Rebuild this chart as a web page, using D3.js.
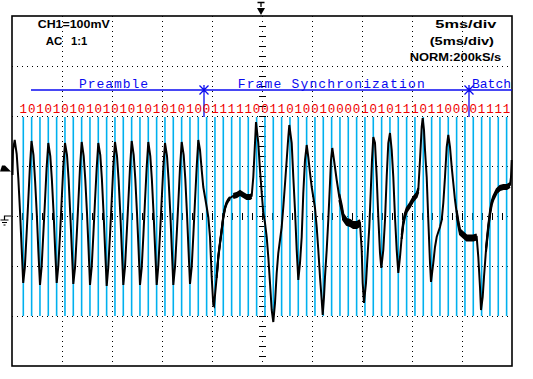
<!DOCTYPE html>
<html><head><meta charset="utf-8">
<script src="https://cdn.jsdelivr.net/npm/d3@7"></script>
<style>body{margin:0;background:#fff}svg{display:block}</style>
</head><body>
<svg id="c" width="533" height="379"></svg>
<script>
// ---- data ----
const bits = ["1","0","1","0","1","0","1","0","1","0","1","0","1","0","1","0","1","0","1","0","1","0",
  "0","1","1","1","1","1","0","0","1","1","0","1","0","0","1","0","0","0","0","1","0","1","0","1",
  "1","1","0","1","1","0","0","0","0","1","1","1","1"];
const firstBitTime = 1.13;      // ms
const bitPeriod = 0.8333;       // ms (1200 baud)
const sectionNames = ["Preamble", "Frame Synchronization", "Batch"];
const sectionLabelTimes = [6.7, 22.57, 46.0];
const sectionBoundaries = [19.2, 45.7];
const sectionLineStart = 1.9;
const headerLeft = ["CH1=100mV", "AC", "1:1"];
const headerRight = ["5ms/div", "(5ms/div)", "NORM:200kS/s"];
const timeGrid = [5,10,15,20,25,30,35,40,45];
const voltGrid = [-200,-100,0,100,200,300];
const triggerTime = 25, triggerLevel = 95;
const trace = [[0.05,82],[0.1,132],[0.27,152],[0.47,124],[0.63,76],[0.8,10],[0.97,-66],[1.12,-134],[1.28,-104],[1.45,-40],[1.62,28],[1.78,94],
[1.95,150],[2.15,122],[2.31,70],[2.48,4],[2.64,-72],[2.8,-138],[2.96,-102],[3.13,-36],[3.3,30],[3.46,96],
[3.63,146],[3.83,120],[3.99,72],[4.16,6],[4.32,-70],[4.47,-134],[4.63,-100],[4.8,-38],[4.97,32],[5.13,98],
[5.3,146],[5.5,122],[5.66,74],[5.83,2],[5.99,-70],[6.13,-136],[6.3,-104],[6.47,-40],[6.64,30],[6.8,96],
[6.97,148],[7.17,120],[7.33,72],[7.5,6],[7.66,-68],[7.8,-138],[7.97,-102],[8.14,-36],[8.3,30],[8.47,96],
[8.63,146],[8.83,122],[8.99,74],[9.16,4],[9.32,-72],[9.47,-140],[9.63,-102],[9.8,-38],[9.97,30],[10.13,98],
[10.3,148],[10.5,120],[10.66,72],[10.83,4],[10.99,-70],[11.13,-138],[11.3,-102],[11.47,-36],[11.64,32],[11.8,96],
[11.97,150],[12.17,122],[12.33,74],[12.5,6],[12.66,-68],[12.8,-138],[12.97,-104],[13.14,-38],[13.3,30],[13.47,98],
[13.63,148],[13.83,120],[13.99,72],[14.16,4],[14.32,-70],[14.47,-138],[14.63,-100],[14.8,-36],[14.97,32],[15.13,96],
[15.3,146],[15.5,120],[15.66,72],[15.83,6],[15.99,-70],[16.13,-138],[16.3,-102],[16.47,-38],[16.64,30],[16.8,96],
[16.97,148],[17.17,122],[17.33,74],[17.5,4],[17.66,-72],[17.8,-136],[17.97,-102],[18.14,-36],[18.3,30],[18.47,98],
[18.63,152],[18.8,132],[18.97,92],[19.13,58],[19.3,38],[19.47,18],[19.63,-2],[19.8,-42],[19.97,-122],[20.13,-178],[20.2,-180],
[20.47,-122],[20.63,-82],[20.8,-54],[20.97,-28],[21.13,-2],[21.3,16],[21.47,26],[21.63,32],[21.8,36],[22.13,40],[22.47,42],[22.8,46],[23.13,42],[23.47,38],[23.8,38],[23.97,40],
[24.13,78],[24.3,146],[24.4,188],[24.63,146],[24.8,92],[24.97,46],[25.13,6],[25.3,-14],[25.47,-42],[25.63,-82],[25.8,-134],[25.97,-188],[26.13,-212],
[26.3,-174],[26.47,-114],[26.63,-74],[26.8,-48],[26.97,-22],[27.13,18],[27.3,64],[27.47,112],[27.63,158],[27.73,182],
[27.97,146],[28.13,78],[28.3,12],[28.47,-68],[28.63,-128],[28.8,-94],[28.97,-42],[29.13,46],[29.3,112],[29.47,142],
[29.63,118],[29.8,86],[29.97,58],[30.13,38],[30.3,16],[30.47,-22],[30.63,-68],[30.8,-122],[30.97,-168],[31.07,-198],
[31.2,-162],[31.3,-122],[31.47,-68],[31.63,-8],[31.8,66],[31.9,112],[32.03,136],[32.2,112],[32.47,72],[32.73,38],[32.97,16],[33.13,-2],[33.47,-12],[33.8,-14],[34.13,-18],[34.47,-18],[34.8,-14],[34.97,-68],[35.07,-134],[35.2,-174],
[35.4,-134],[35.53,-88],[35.73,-22],[35.87,46],[36.0,112],[36.13,158],[36.3,146],[36.47,78],[36.63,-2],[36.8,-74],[36.93,-104],
[37.13,-68],[37.3,-8],[37.47,78],[37.63,146],[37.8,166],[37.97,132],[38.13,78],[38.3,-2],[38.47,-68],[38.63,-114],
[38.8,-82],[38.97,-42],[39.13,-14],[39.3,2],[39.47,12],[39.8,22],[40.13,34],[40.47,42],[40.63,52],[40.8,112],[40.97,178],[41.07,196],
[41.2,172],[41.3,132],[41.47,78],[41.63,-8],[41.8,-94],[41.9,-132],[42.13,-94],[42.3,-62],[42.47,-42],[42.63,-32],[42.8,-22],[42.97,-8],[43.13,26],[43.3,78],[43.47,138],[43.63,162],
[43.8,138],[43.97,98],[44.13,66],[44.3,32],[44.47,6],[44.63,-14],[44.8,-32],[45.13,-38],[45.47,-44],[45.8,-44],[46.13,-44],[46.47,-42],[46.63,-82],[46.8,-142],[46.9,-188],
[47.07,-162],[47.2,-122],[47.4,-68],[47.63,-22],[47.8,6],[47.97,26],[48.13,36],[48.47,50],[48.8,56],[49.13,58],[49.47,58],[49.8,62],[49.9,78],[49.97,112]];
// noisy stretches: [start ms, end ms, half-amplitude mV]
const noiseBands = [[20.4,21.9,2],[21.9,24.05,4],[32.6,34.85,6],[38.9,40.7,4],[44.4,46.55,5],[47.4,49.85,4]];

// ---- drawing ----
const svg = d3.select("#c");
const x = d3.scaleLinear().domain([0,50]).range([12,512]);
const y = d3.scaleLinear().domain([-300,400]).range([366,16]);
const BLUE = "#0a0af0", RED = "#f00000", CYAN = "#00b0ee";

// grid
const g = svg.append("g");
timeGrid.forEach(t => g.append("line").attr("x1", Math.round(x(t))+0.5).attr("x2", Math.round(x(t))+0.5)
  .attr("y1", y(400)).attr("y2", y(-300)).attr("stroke","#000").attr("stroke-width",1).attr("stroke-dasharray","1,4"));
voltGrid.forEach(v => g.append("line").attr("y1", Math.round(y(v))+0.5).attr("y2", Math.round(y(v))+0.5)
  .attr("x1", x(0)).attr("x2", x(50)).attr("stroke","#000").attr("stroke-width",1).attr("stroke-dasharray","1,4"));
// minor ticks on centre lines
d3.range(-280, 400, 20).forEach(v => g.append("line").attr("x1", x(triggerTime)-3).attr("x2", x(triggerTime)+4)
  .attr("y1", Math.round(y(v))+0.5).attr("y2", Math.round(y(v))+0.5).attr("stroke","#000"));
d3.range(1, 50, 1).forEach(t => g.append("line").attr("y1", y(0)-3).attr("y2", y(0)+4)
  .attr("x1", Math.round(x(t))+0.5).attr("x2", Math.round(x(t))+0.5).attr("stroke","#000"));

// frame
svg.append("rect").attr("x", x(0)).attr("y", y(400)).attr("width", x(50)-x(0)).attr("height", y(-300)-y(400))
  .attr("fill","none").attr("stroke","#000").attr("stroke-width",1.6);

// header text
const hdr = svg.append("g").attr("font-family","Liberation Sans, Arial, sans-serif").attr("font-weight","bold")
  .attr("font-size",11).attr("fill","#000");
const hl = [[37.7,28.3,72],[45.7,45,16.6],[71,45,16.3]];
headerLeft.forEach((s,i)=>hdr.append("text").attr("x",hl[i][0]).attr("y",hl[i][1]).attr("textLength",hl[i][2]).attr("lengthAdjust","spacingAndGlyphs").text(s));
const hr = [[435.3,28.3,61],[429.7,45,64.3],[409.7,61,91.6]];
headerRight.forEach((s,i)=>hdr.append("text").attr("x",hr[i][0]).attr("y",hr[i][1]).attr("textLength",hr[i][2]).attr("lengthAdjust","spacingAndGlyphs").text(s));

// trigger position marker (top)
const tx = x(triggerTime) - 1;
svg.append("path").attr("d", `M${tx-3.5},2.5 H${tx+3.5} M${tx},2.5 V7`).attr("stroke","#000").attr("stroke-width",1.3).attr("fill","none");
svg.append("path").attr("d", `M${tx-4},8 H${tx+4} L${tx},15 Z`).attr("fill","#000");
// trigger level marker (left)
const ty = y(triggerLevel);
svg.append("path").attr("d", `M0,${ty+3} L2,${ty-3} H5 L11,${ty+3} Z`).attr("fill","#000");
// ground marker
const gy = y(0);
svg.append("path").attr("d", `M11,${gy} H4.5 V${gy+4} M0.5,${gy+4} H8.5 M2,${gy+6.5} H7 M3.5,${gy+9} H5.5`)
  .attr("stroke","#000").attr("stroke-width",1.2).attr("fill","none");

// section annotation
const sy = y(252);
svg.append("line").attr("x1", x(sectionLineStart)).attr("x2", x(50)).attr("y1", sy).attr("y2", sy).attr("stroke",BLUE).attr("stroke-width",1.4);
sectionBoundaries.forEach(t => {
  const cx = x(t);
  svg.append("path").attr("d", `M${cx-4.5},${sy-4.5} L${cx+4.5},${sy+4.5} M${cx-4.5},${sy+4.5} L${cx+4.5},${sy-4.5} M${cx},${sy-5} V${y(198)}`)
    .attr("stroke",BLUE).attr("stroke-width",1.3).attr("fill","none");
});
const labLen = [69, 187, 39];
sectionNames.forEach((s,i)=>svg.append("text").attr("x", x(sectionLabelTimes[i])).attr("y", sy-2.5)
  .attr("font-family","Liberation Mono, Courier New, monospace").attr("font-size",13).attr("fill",BLUE)
  .attr("textLength",labLen[i]).attr("lengthAdjust","spacing").text(s));

// bit sampling lines + bit values
const bitT = i => firstBitTime + i*bitPeriod;
svg.append("g").selectAll("line").data(bits).join("line")
  .attr("x1",(d,i)=>x(bitT(i))).attr("x2",(d,i)=>x(bitT(i)))
  .attr("y1", y(198)).attr("y2", y(-200)).attr("stroke",CYAN).attr("stroke-width",1.6);
svg.append("g").selectAll("text").data(bits).join("text")
  .attr("x",(d,i)=>x(bitT(i))).attr("y", y(206)).attr("text-anchor","middle")
  .attr("font-family","Liberation Mono, Courier New, monospace").attr("font-size",12.5).attr("fill",RED).text(d=>d);

// noise bands
noiseBands.forEach(([a,b,amp]) => {
  const seg = trace.filter(p => p[0] >= a && p[0] <= b);
  svg.append("path").datum(seg).attr("fill","#000")
    .attr("d", d3.area().x(p=>x(p[0])).y0(p=>y(p[1]-amp)).y1(p=>y(p[1]+amp)));
  svg.append("path").datum(seg).attr("fill","none").attr("stroke","#000").attr("stroke-width",2)
    .attr("d", d3.line().x(p=>x(p[0])).y(p=>y(p[1]+amp)));
  svg.append("path").datum(seg).attr("fill","none").attr("stroke","#000").attr("stroke-width",2)
    .attr("d", d3.line().x(p=>x(p[0])).y(p=>y(p[1]-amp)));
});
// trace
svg.append("path").datum(trace).attr("fill","none").attr("stroke","#000").attr("stroke-width",2)
  .attr("stroke-linejoin","miter")
  .attr("d", d3.line().x(p=>x(p[0])).y(p=>y(p[1])));
</script>
</body></html>
